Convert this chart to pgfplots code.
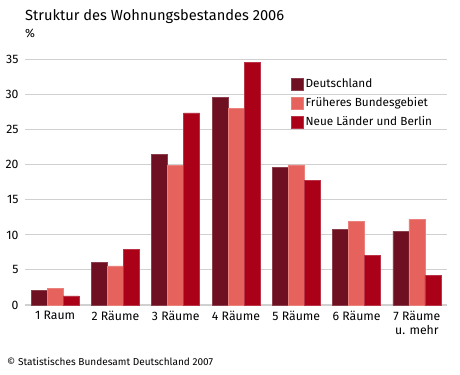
\documentclass[border=0pt]{standalone}
\usepackage{fontspec}
\setmainfont{Fira Sans}
\usepackage{pgfplots}
\pgfplotsset{compat=1.18}
\definecolor{cD}{HTML}{6E1022}
\definecolor{cF}{HTML}{E5625D}
\definecolor{cN}{HTML}{AA0018}
\definecolor{gridc}{HTML}{D0D0D0}
\begin{document}
\begin{tikzpicture}[x=1bp,y=1bp]
\useasboundingbox (0,0) rectangle (460,374);
\node[anchor=base west, font=\fontsize{14.7}{18}\selectfont, inner sep=0] at (25,354) {Struktur des Wohnungsbestandes 2006};
\node[anchor=base west, font=\fontsize{12}{14}\selectfont, inner sep=0] at (25,337) {\%};
\node[anchor=base west, font=\fontsize{10.1}{13}\selectfont, inner sep=0] at (7,9) {© Statistisches Bundesamt Deutschland 2007};
\begin{axis}[
  at={(25bp,69bp)}, anchor=south west,
  scale only axis, width=422bp, height=245.3bp,
  ymin=0, ymax=35, ytick={0,5,...,35},
  xmin=-0.5, xmax=6.5, xtick={0,...,6},
  xticklabels={1 Raum, 2 Räume, 3 Räume, 4 Räume, 5 Räume, 6 Räume, {7 Räume\\u. mehr}},
  x tick label style={align=center, font=\fontsize{12.3}{14}\selectfont, yshift=-3bp},
  y tick label style={font=\fontsize{12.3}{14}\selectfont, xshift=-3bp},
  /pgf/number format/assume math mode=true,
  ymajorgrids, grid style={gridc, line width=1bp},
  axis x line*=bottom, axis y line*=left,
  y axis line style={draw=none},
  x axis line style={gridc, line width=2bp},
  major tick length=0pt,
  ybar=0pt, bar width=16bp,
  legend style={at={(0.623,0.942)}, anchor=north west, draw=none, fill=none,
    font=\fontsize{11.8}{14}\selectfont, row sep=3bp,
    nodes={text height=9bp, text depth=3bp, inner sep=2bp}},
  legend cell align=left,
  legend image code/.code={\fill[#1] (0bp,-6bp) rectangle (12bp,6bp);},
]
\addplot[fill=cD, draw=cD!80!white, line width=0.5bp] coordinates {(0,2.1) (1,6.1) (2,21.5) (3,29.6) (4,19.6) (5,10.8) (6,10.5)};
\addplot[fill=cF, draw=cF!80!white, line width=0.5bp] coordinates {(0,2.4) (1,5.6) (2,19.9) (3,28.1) (4,20.0) (5,11.9) (6,12.2)};
\addplot[fill=cN, draw=cN!80!white, line width=0.5bp] coordinates {(0,1.3) (1,7.9) (2,27.4) (3,34.6) (4,17.8) (5,7.1) (6,4.2)};
\legend{Deutschland, Früheres Bundesgebiet, Neue Länder und Berlin}
\end{axis}
\end{tikzpicture}
\end{document}
